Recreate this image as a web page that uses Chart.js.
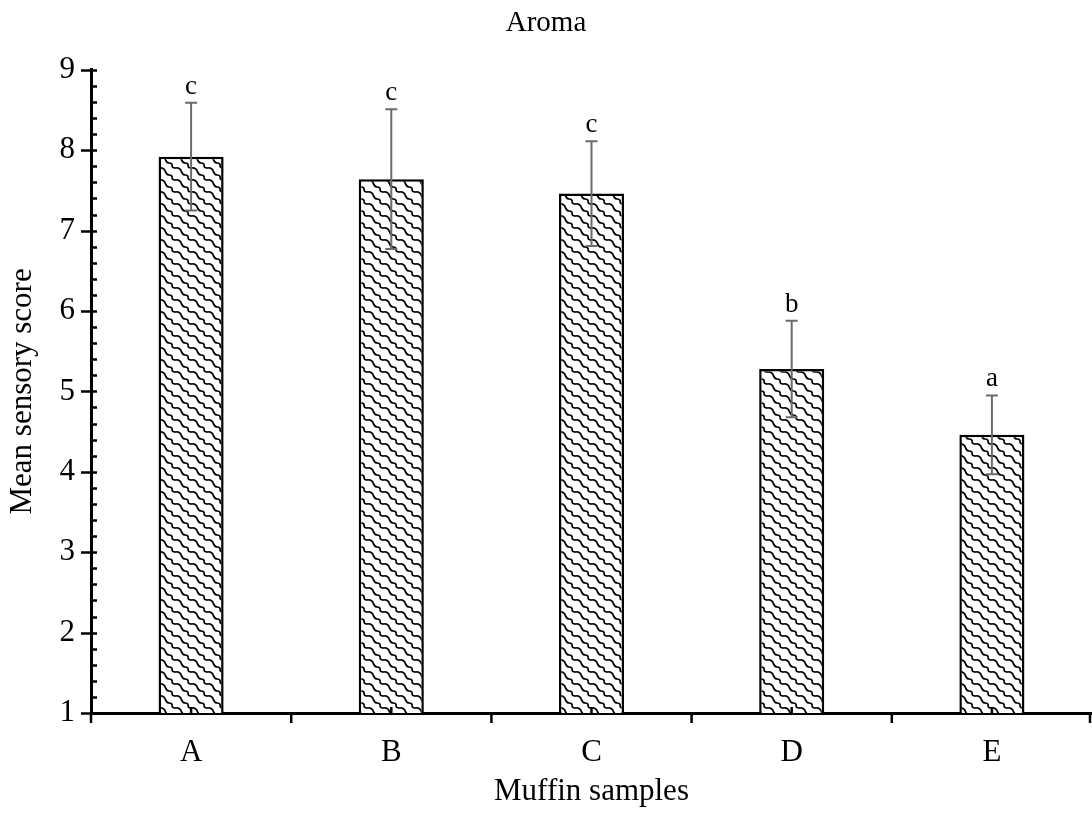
<!DOCTYPE html>
<html>
<head>
<meta charset="utf-8">
<script src="https://cdn.jsdelivr.net/npm/chart.js@4"></script>
<style>
  html, body { margin: 0; padding: 0; background: #fff; }
  #wrap { width: 1092px; height: 813px; }
</style>
</head>
<body>
<div id="wrap"><canvas id="grafico"></canvas></div>
<script>
// dados
const amostras = ['A', 'B', 'C', 'D', 'E'];
const medias = [7.92, 7.64, 7.46, 5.28, 4.46];
const desvios = [0.67, 0.87, 0.65, 0.60, 0.49];
const letras = ['c', 'c', 'c', 'b', 'a'];
const ticksY = [1, 2, 3, 4, 5, 6, 7, 8, 9];

const fonte = '"Liberation Serif", "Times New Roman", serif';

// textura ondulada das barras (tipo escamas)
function criarPadrao() {
  const c = document.createElement('canvas');
  c.width = 16; c.height = 12;
  const g = c.getContext('2d');
  g.fillStyle = '#fff';
  g.fillRect(0, 0, 16, 12);
  g.strokeStyle = '#000';
  g.lineWidth = 1.7;
  for (let dx = -16; dx <= 16; dx += 16) {
    for (let dy = -12; dy <= 12; dy += 12) {
      // traço diagonal em S
      g.beginPath();
      g.moveTo(dx, dy);
      g.bezierCurveTo(dx + 7, dy - 1, dx + 4, dy + 7, dx + 9, dy + 7);
      g.quadraticCurveTo(dx + 13, dy + 7, dx + 12, dy + 11);
      g.stroke();
      // arco curto que liga as fileiras
      g.beginPath();
      g.moveTo(dx + 12, dy + 11);
      g.quadraticCurveTo(dx + 14, dy + 12, dx + 16, dy + 12);
      g.stroke();
    }
  }
  return g.createPattern(c, 'repeat');
}

const ctx = document.getElementById('grafico').getContext('2d');

// barras de erro, letras e marcas dos eixos
const extras = {
  id: 'extras',
  afterDatasetsDraw(chart) {
    const g = chart.ctx;
    const x = chart.scales.x;
    const y = chart.scales.y;
    const area = chart.chartArea;
    g.save();
    medias.forEach((m, i) => {
      const px = x.getPixelForValue(i);
      const topo = y.getPixelForValue(m + desvios[i]);
      const base = y.getPixelForValue(m - desvios[i]);
      g.strokeStyle = '#6b6b6b';
      g.lineWidth = 2;
      g.beginPath();
      g.moveTo(px, topo); g.lineTo(px, base);
      g.moveTo(px - 6, topo); g.lineTo(px + 6, topo);
      g.moveTo(px - 6, base); g.lineTo(px + 6, base);
      g.stroke();
      g.fillStyle = '#000';
      g.font = '27px ' + fonte;
      g.textAlign = 'center';
      g.textBaseline = 'alphabetic';
      g.fillText(letras[i], px, topo - 9);
    });
    // marcas do eixo y
    g.strokeStyle = '#000';
    g.lineWidth = 2.5;
    g.beginPath();
    for (let k = 0; k <= 40; k++) {
      const v = 1 + k * 0.2;
      const py = Math.round(y.getPixelForValue(v)) + 0.5;
      if (k % 5 === 0) {
        g.moveTo(area.left - 10, py); g.lineTo(area.left + 6, py);
      } else {
        g.moveTo(area.left, py); g.lineTo(area.left + 6, py);
      }
    }
    // marcas do eixo x
    const larg = (area.right - area.left) / amostras.length;
    for (let k = 0; k <= amostras.length; k++) {
      const px = Math.min(area.left + k * larg, area.right - 2);
      g.moveTo(px, area.bottom); g.lineTo(px, area.bottom + 10);
    }
    amostras.forEach((a, i) => {
      const px = x.getPixelForValue(i);
      g.moveTo(px, area.bottom); g.lineTo(px, area.bottom - 6);
    });
    g.stroke();
    g.restore();
  }
};

new Chart(ctx, {
  type: 'bar',
  data: {
    labels: amostras,
    datasets: [{
      label: 'Aroma',
      data: medias,
      backgroundColor: criarPadrao(),
      borderColor: '#000',
      borderWidth: 2.5,
      borderSkipped: 'bottom',
      categoryPercentage: 1,
      barPercentage: 0.325,
    }],
  },
  options: {
    responsive: true,
    maintainAspectRatio: false,
    animation: false,
    layout: { padding: { top: 0, right: 0, left: 0, bottom: 0 } },
    plugins: {
      legend: { display: false },
      tooltip: { enabled: false },
      title: {
        display: true,
        text: 'Aroma',
        color: '#000',
        font: { family: fonte, size: 29, weight: 'normal' },
        padding: { top: 6, bottom: 29 },
      },
    },
    scales: {
      x: {
        offset: true,
        grid: { display: true, drawOnChartArea: false, offset: true, tickLength: 10, tickColor: 'transparent' },
        border: { color: '#000', width: 3 },
        ticks: { color: '#000', font: { family: fonte, size: 31 }, padding: 11 },
        title: {
          display: true, text: 'Muffin samples', color: '#000',
          font: { family: fonte, size: 31 }, padding: { top: 0, bottom: 3 },
        },
        afterFit(scale) { scale.height = 100; },
      },
      y: {
        min: 1,
        max: 9,
        afterBuildTicks(scale) { scale.ticks = ticksY.map(v => ({ value: v })); },
        grid: { drawOnChartArea: false, tickLength: 10, tickColor: 'transparent' },
        border: { color: '#000', width: 3 },
        ticks: { color: '#000', font: { family: fonte, size: 31 }, padding: 6 },
        title: {
          display: true, text: 'Mean sensory score', color: '#000',
          font: { family: fonte, size: 31 }, padding: { top: 4, bottom: 0 },
        },
        afterFit(scale) { scale.width = 91; },
      },
    },
  },
  plugins: [extras],
});
</script>
</body>
</html>
